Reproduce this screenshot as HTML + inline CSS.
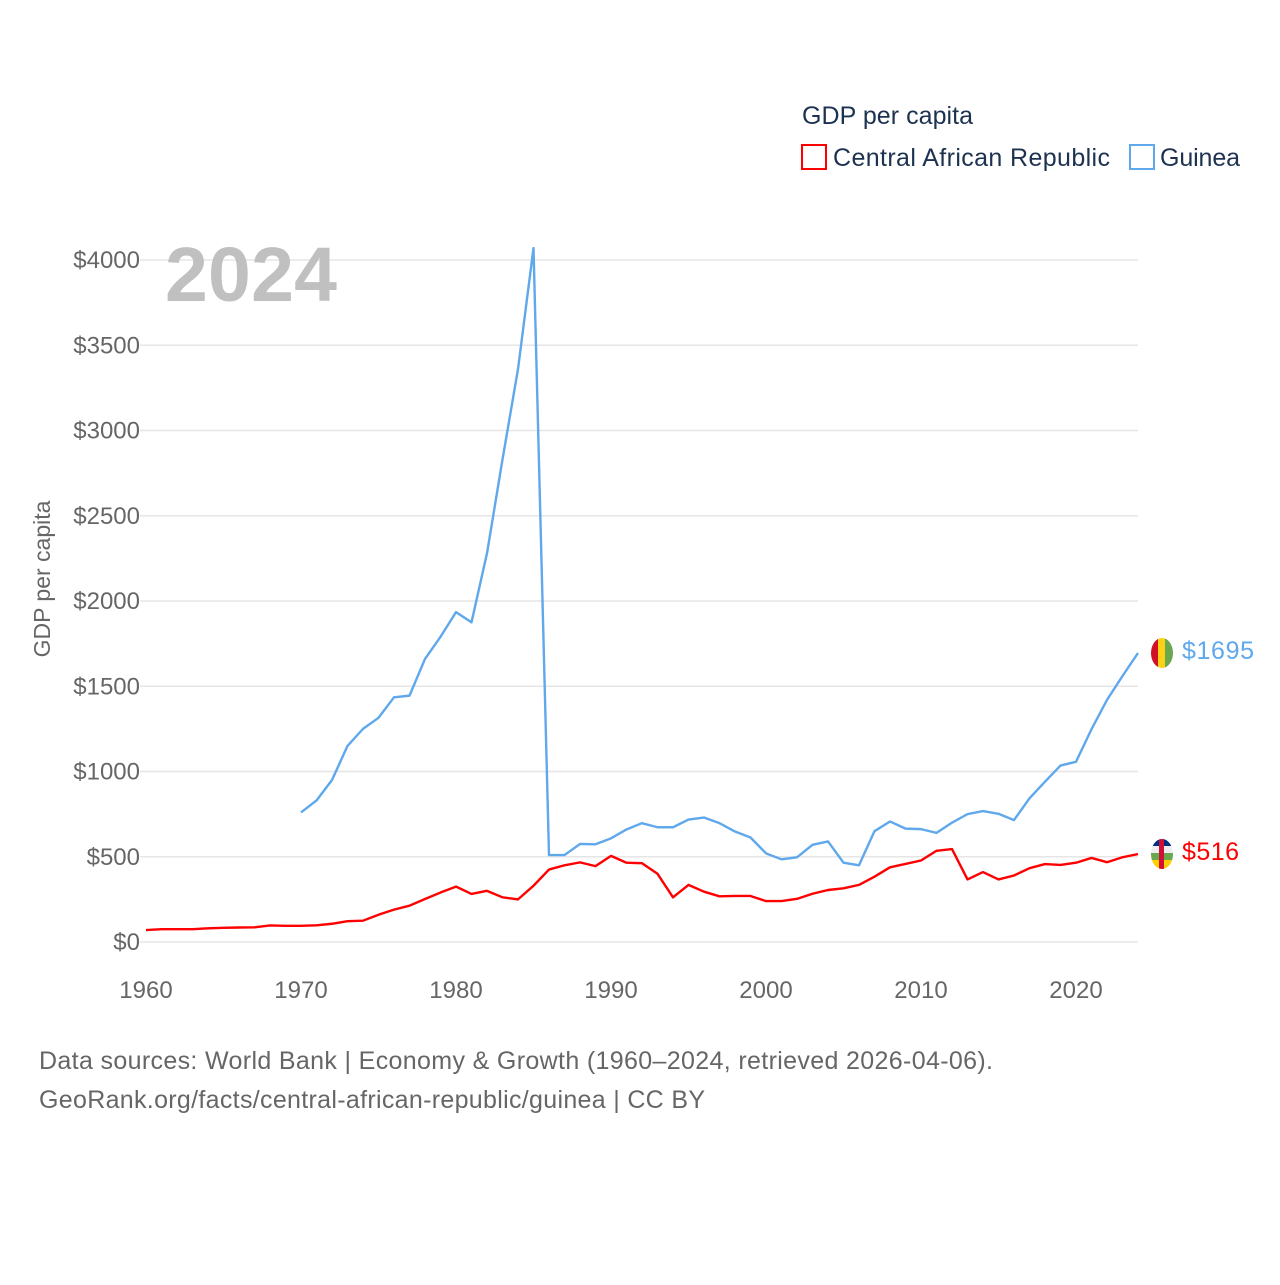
<!DOCTYPE html>
<html><head><meta charset="utf-8"><style>
body{margin:0;background:#fff;}
svg text{font-family:"Liberation Sans",sans-serif;}
</style></head><body>
<svg id="chart" width="1280" height="1280" xmlns="http://www.w3.org/2000/svg">
<g id="grid"></g>
<g id="yt"></g>
<g id="xt"></g>
<text x="165" y="301" font-size="77" font-weight="bold" fill="#c0c0c0" textLength="172">2024</text>
<text transform="translate(50,579) rotate(-90)" text-anchor="middle" font-size="23" fill="#666">GDP per capita</text>
<g id="lines"></g>
<g>
<text x="802" y="124" font-size="25" fill="#1d3250" textLength="171">GDP per capita</text>
<rect x="802" y="145" width="24" height="24" fill="none" stroke="#f00" stroke-width="2"/>
<text x="833" y="166" font-size="25" fill="#1d3250" textLength="277">Central African Republic</text>
<rect x="1130" y="145" width="24" height="24" fill="none" stroke="#5fa8ec" stroke-width="2"/>
<text x="1160" y="166" font-size="25" fill="#1d3250" textLength="80">Guinea</text>
</g>
<g>
<clipPath id="cg"><ellipse cx="1162" cy="653" rx="11" ry="15"/></clipPath>
<g clip-path="url(#cg)"><rect x="1150" y="636" width="8" height="34" fill="#ce1126"/><rect x="1158" y="636" width="7" height="34" fill="#fcd116"/><rect x="1165" y="636" width="10" height="34" fill="#6aa84f"/></g>
</g>
<g>
<clipPath id="cc"><ellipse cx="1162" cy="854" rx="11" ry="15"/></clipPath>
<g clip-path="url(#cc)"><rect x="1150" y="838" width="26" height="8" fill="#003082"/><rect x="1150" y="846" width="26" height="7" fill="#eee"/><rect x="1150" y="853" width="26" height="7" fill="#6aa84f"/><rect x="1150" y="860" width="26" height="10" fill="#ffce00"/><rect x="1159" y="838" width="5" height="32" fill="#d21034"/></g>
</g>
<text x="1182" y="659" font-size="25" fill="#5fa8ec" textLength="72">$1695</text>
<text x="1182" y="860" font-size="25" fill="#f00" textLength="57">$516</text>
<text x="39" y="1069" font-size="25" fill="#666" textLength="954">Data sources: World Bank | Economy &amp; Growth (1960–2024, retrieved 2026-04-06).</text>
<text x="39" y="1108" font-size="25" fill="#666" textLength="666">GeoRank.org/facts/central-african-republic/guinea | CC BY</text>
</svg>
<script>
const carYears=[1960,1961,1962,1963,1964,1965,1966,1967,1968,1969,1970,1971,1972,1973,1974,1975,1976,1977,1978,1979,1980,1981,1982,1983,1984,1985,1986,1987,1988,1989,1990,1991,1992,1993,1994,1995,1996,1997,1998,1999,2000,2001,2002,2003,2004,2005,2006,2007,2008,2009,2010,2011,2012,2013,2014,2015,2016,2017,2018,2019,2020,2021,2022,2023,2024];
const carValues=[70,75,75,75,80,83,85,86,97,95,95,98,107,122,125,160,190,213,252,290,325,282,300,262,250,330,425,450,467,445,505,465,462,400,262,335,295,268,270,270,240,240,253,283,305,315,335,383,438,458,478,535,545,367,410,367,390,433,457,452,465,493,468,497,516];
const guineaYears=[1970,1971,1972,1973,1974,1975,1976,1977,1978,1979,1980,1981,1982,1983,1984,1985,1986,1987,1988,1989,1990,1991,1992,1993,1994,1995,1996,1997,1998,1999,2000,2001,2002,2003,2004,2005,2006,2007,2008,2009,2010,2011,2012,2013,2014,2015,2016,2017,2018,2019,2020,2021,2022,2023,2024];
const guineaValues=[760,830,950,1150,1250,1315,1435,1445,1660,1790,1935,1875,2280,2830,3360,4070,510,510,575,573,608,660,697,673,673,718,730,697,648,613,520,485,497,570,590,465,450,650,707,665,662,640,700,750,768,752,715,843,940,1035,1057,1248,1420,1560,1695];
const yTicks=[0,500,1000,1500,2000,2500,3000,3500,4000];
const xTicks=[1960,1970,1980,1990,2000,2010,2020];
const NS="http://www.w3.org/2000/svg";
function xs(y){return 146+(y-1960)*15.5;}
function ys(v){return 942-v*0.1705;}
const grid=document.getElementById('grid'),yt=document.getElementById('yt'),xt=document.getElementById('xt'),lines=document.getElementById('lines');
yTicks.forEach(v=>{
  const l=document.createElementNS(NS,'line');
  
  
  l.setAttribute('x1',140);l.setAttribute('x2',1138);l.setAttribute('y1',ys(v));l.setAttribute('y2',ys(v));
  l.setAttribute('stroke','#e6e6e6');l.setAttribute('stroke-width','1.5');grid.appendChild(l);
  const t=document.createElementNS(NS,'text');
  
  
  t.setAttribute('x',140);t.setAttribute('y',ys(v)+8);t.setAttribute('text-anchor','end');t.setAttribute('font-size','24');t.setAttribute('fill','#666');
  t.textContent='$'+v;yt.appendChild(t);
});
xTicks.forEach(y=>{
  const t=document.createElementNS(NS,'text');
  
  
  t.setAttribute('x',xs(y));t.setAttribute('y',998);t.setAttribute('text-anchor','middle');t.setAttribute('font-size','24');t.setAttribute('fill','#666');
  t.textContent=y;xt.appendChild(t);
});
function draw(years,vals,color,name){
  const p=document.createElementNS(NS,'polyline');
  
  
  p.setAttribute('points',years.map((y,i)=>xs(y)+','+ys(vals[i])).join(' '));
  p.setAttribute('fill','none');p.setAttribute('stroke',color);p.setAttribute('stroke-width','2.4');p.setAttribute('stroke-linejoin','round');
  lines.appendChild(p);
}
draw(guineaYears,guineaValues,'#5fa8ec','guinea-line');
draw(carYears,carValues,'#ff0000','car-line');
</script>
</body></html>
